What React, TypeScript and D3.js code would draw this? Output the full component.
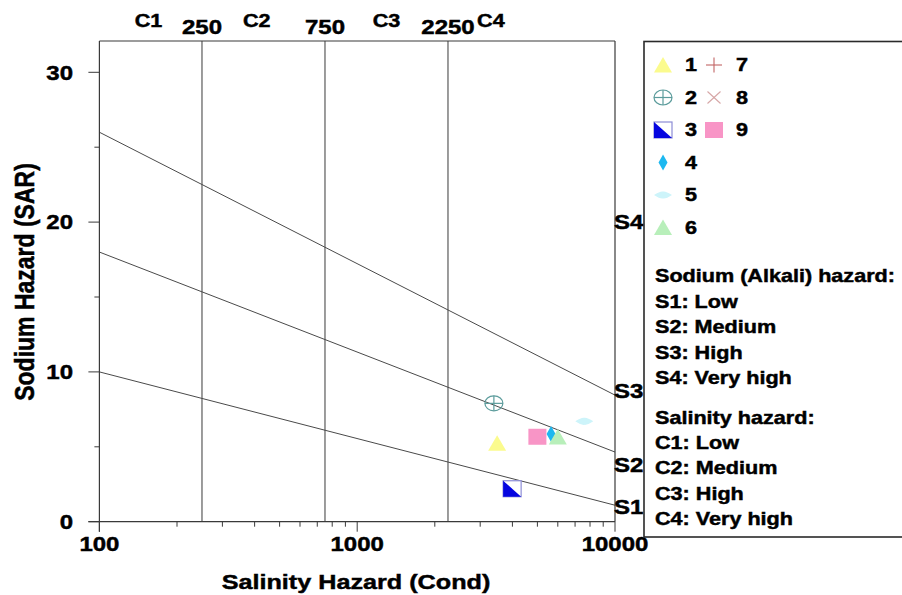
import React from "react";
import * as d3 from "d3";

// ---------- data ----------
const condDomain = [100, 10000];
const sarTicks = [0, 5, 10, 15, 20, 25, 30];
const sarLabelTicks = [0, 10, 20, 30];
const condLabelTicks = [100, 1000, 10000];

// salinity class boundaries (conductivity)
const salinityBounds = [250, 750, 2250];
const salinityBoundLabels = ["250", "750", "2250"];
const salinityClassNames = ["C1", "C2", "C3", "C4"];
const salinityClassLabelCond = [155, 408, 1300, 3300];

// sodium hazard boundary lines: SAR at cond = 100 and cond = 10000
const boundaryEnds = [100, 10000];
const s1s2 = [10, 1.1];
const s2s3 = [18, 4.65];
const s3s4 = [26, 8.45];
const sodiumClassNames = ["S1", "S2", "S3", "S4"];
const sodiumClassLabelSar = [1.0, 3.8, 8.75, 20];

// samples
const sampleIds = ["1", "2", "3", "4", "5", "6", "9"];
const sampleCond = [3490, 3390, 3990, 5650, 7600, 6000, 5000];
const sampleSar = [5.23, 7.9, 2.2, 5.85, 6.7, 5.65, 5.67];

// legend
const legendIds = ["1", "2", "3", "4", "5", "6", "7", "8", "9"];
const sodiumLegend = ["Sodium (Alkali) hazard:", "S1: Low", "S2: Medium", "S3: High", "S4: Very high"];
const salinityLegend = ["Salinity hazard:", "C1: Low", "C2: Medium", "C3: High", "C4: Very high"];

// ---------- styling ----------
const FONT = "'Liberation Sans', Arial, sans-serif";
const SX = 1.2; // horizontal stretch of the reference rendering
const LINE = "#3a3a3a";

const x = d3.scaleLog().domain(condDomain).range([99.4, 615]);
const y = d3.scaleLinear().domain([0, 30]).range([521.7, 72.3]);
const TOP = 41;

function T({ x: tx, y: ty, size, anchor = "start", children, fill = "#000" }: any) {
  return (
    <text
      transform={`translate(${tx},${ty}) scale(${SX},1)`}
      textAnchor={anchor}
      dy="0.36em"
      fontFamily={FONT}
      fontWeight="bold"
      fontSize={size}
      fill={fill}
      stroke={fill}
      strokeWidth={0.45}
    >
      {children}
    </text>
  );
}

function Marker({ id, cx, cy }: { id: string; cx: number; cy: number }) {
  switch (id) {
    case "1":
      return <polygon points={`${cx - 9},${cy + 7.5} ${cx + 9},${cy + 7.5} ${cx},${cy - 8}`} fill="#fbfb8e" />;
    case "2":
      return (
        <g stroke="#5c9c9c" strokeWidth={1.2} fill="none">
          <ellipse cx={cx} cy={cy} rx={9} ry={7.5} />
          <line x1={cx - 9} x2={cx + 9} y1={cy} y2={cy} />
          <line x1={cx} x2={cx} y1={cy - 7.5} y2={cy + 7.5} />
        </g>
      );
    case "3":
      return (
        <g>
          <rect x={cx - 9} y={cy - 8} width={18} height={16} fill="#fff" stroke="#8d8dd6" strokeWidth={1.2} />
          <polygon points={`${cx - 9},${cy - 8} ${cx - 9},${cy + 8} ${cx + 9},${cy + 8}`} fill="#0505e0" />
        </g>
      );
    case "4":
      return <polygon points={`${cx},${cy - 8} ${cx + 4.5},${cy} ${cx},${cy + 8} ${cx - 4.5},${cy}`} fill="#1cb8f0" />;
    case "5":
      return (
        <path
          d={`M${cx - 9},${cy} Q${cx - 3},${cy - 4} ${cx},${cy - 3.5} Q${cx + 3},${cy - 4} ${cx + 9},${cy} Q${cx + 3},${cy + 4} ${cx},${cy + 3.5} Q${cx - 3},${cy + 4} ${cx - 9},${cy} Z`}
          fill="#cdf4fa"
        />
      );
    case "6":
      return <polygon points={`${cx - 9},${cy + 7.5} ${cx + 9},${cy + 7.5} ${cx},${cy - 8}`} fill="#b8efba" />;
    case "7":
      return (
        <g stroke="#c26464" strokeWidth={1.1}>
          <line x1={cx - 8} x2={cx + 8} y1={cy} y2={cy} />
          <line x1={cx} x2={cx} y1={cy - 7.5} y2={cy + 7.5} />
        </g>
      );
    case "8":
      return (
        <g stroke="#d6a6a6" strokeWidth={1.1}>
          <line x1={cx - 6.5} x2={cx + 6.5} y1={cy - 6} y2={cy + 6} />
          <line x1={cx - 6.5} x2={cx + 6.5} y1={cy + 6} y2={cy - 6} />
        </g>
      );
    case "9":
      return <rect x={cx - 9} y={cy - 8} width={18} height={16} fill="#f895c6" />;
    default:
      return null;
  }
}

export default function App() {
  const boundaries = [s1s2, s2s3, s3s4];
  const lineGen = d3
    .line<[number, number]>()
    .x((d) => x(d[0]))
    .y((d) => y(d[1]));
  const xMinor = x.ticks();
  const left = x(condDomain[0]);
  const right = x(condDomain[1]);
  const bottom = y(0);

  const legendRowY = (i: number) => 65 + i * 32.5;
  const textRowY = (i: number) => 276 + i * 25.5;

  return (
    <div style={{ position: "fixed", left: 0, top: 0 }}>
      <svg width={902} height={595} style={{ display: "block", background: "#fff" }}>
        <rect width={902} height={595} fill="#fff" />
        <defs>
          <clipPath id="plot">
            <rect x={left} y={TOP} width={right - left} height={bottom - TOP} />
          </clipPath>
        </defs>

        {/* salinity class boundaries */}
        {salinityBounds.map((v) => (
          <line key={v} x1={x(v)} x2={x(v)} y1={TOP} y2={bottom} stroke={LINE} strokeWidth={1} />
        ))}

        {/* sodium hazard boundary lines */}
        <g clipPath="url(#plot)">
          {boundaries.map((b, i) => (
            <path
              key={i}
              d={lineGen(boundaryEnds.map((c, j) => [c, b[j]] as [number, number])) || ""}
              fill="none"
              stroke="#4a4a4a"
              strokeWidth={1}
            />
          ))}
        </g>

        {/* frame */}
        <line x1={left} x2={right} y1={TOP} y2={TOP} stroke={LINE} strokeWidth={1.2} />
        <line x1={right} x2={right} y1={TOP} y2={bottom} stroke={LINE} strokeWidth={1.2} />
        <line x1={left} x2={left} y1={TOP} y2={bottom + 10} stroke={LINE} strokeWidth={1.2} />
        <line x1={left - 11} x2={right} y1={bottom} y2={bottom} stroke={LINE} strokeWidth={1.2} />

        {/* x ticks */}
        {xMinor.map((v) => {
          const major = condLabelTicks.includes(v);
          return (
            <line key={v} x1={x(v)} x2={x(v)} y1={bottom} y2={bottom + (major ? 10 : 5)} stroke={LINE} strokeWidth={1} />
          );
        })}
        {condLabelTicks.map((v) => (
          <T key={v} x={x(v)} y={544} size={20} anchor="middle">
            {String(v)}
          </T>
        ))}

        {/* y ticks */}
        {sarTicks.map((v) => {
          const major = sarLabelTicks.includes(v);
          return <line key={v} x1={left - (major ? 11 : 5)} x2={left} y1={y(v)} y2={y(v)} stroke={LINE} strokeWidth={1} />;
        })}
        {sarLabelTicks.map((v) => (
          <T key={v} x={73} y={y(v)} size={20} anchor="end">
            {String(v)}
          </T>
        ))}

        {/* axis titles */}
        <T x={356} y={581} size={21} anchor="middle">
          Salinity Hazard (Cond)
        </T>
        <text
          transform={`translate(24,282) rotate(-90) scale(1,${SX})`}
          textAnchor="middle"
          dy="0.36em"
          fontFamily={FONT}
          fontWeight="bold"
          fontSize={23}
          stroke="#000"
          strokeWidth={0.45}
        >
          Sodium Hazard (SAR)
        </text>

        {/* top labels */}
        {salinityClassNames.map((n, i) => (
          <T key={n} x={x(salinityClassLabelCond[i])} y={20.5} size={18} anchor="middle">
            {n}
          </T>
        ))}
        {salinityBoundLabels.map((n, i) => (
          <T key={n} x={x(salinityBounds[i])} y={26.5} size={20} anchor="middle">
            {n}
          </T>
        ))}

        {/* sodium class labels */}
        {sodiumClassNames.map((n, i) => (
          <T key={n} x={614} y={y(sodiumClassLabelSar[i])} size={20}>
            {n}
          </T>
        ))}

        {/* samples */}
        {sampleIds.map((id, i) => (
          <Marker key={id} id={id} cx={x(sampleCond[i])} cy={y(sampleSar[i])} />
        ))}

        {/* legend box */}
        <rect x={644} y={41.5} width={300} height={495.5} fill="none" stroke="#2a2a2a" strokeWidth={1.6} />
        {legendIds.map((id, i) => {
          const col = i < 6 ? 0 : 1;
          const row = i < 6 ? i : i - 6;
          const mx = col === 0 ? 663 : 714;
          const lx = col === 0 ? 685 : 736;
          const cy = legendRowY(row);
          return (
            <g key={id}>
              <Marker id={id} cx={mx} cy={cy} />
              <T x={lx} y={cy} size={18}>
                {id}
              </T>
            </g>
          );
        })}
        {sodiumLegend.map((s, i) => (
          <T key={s} x={655} y={textRowY(i)} size={18}>
            {s}
          </T>
        ))}
        {salinityLegend.map((s, i) => (
          <T key={s} x={655} y={417.3 + i * 25.3} size={18}>
            {s}
          </T>
        ))}
      </svg>
    </div>
  );
}
